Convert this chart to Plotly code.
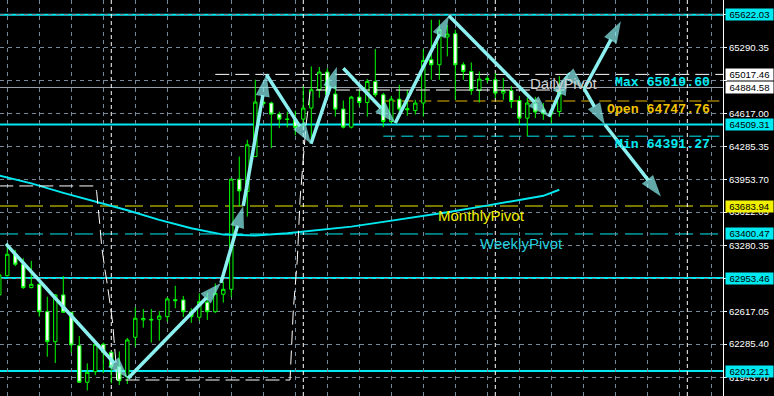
import plotly.graph_objects as go

# ---------------- data ----------------
opens = [62783, 62978, 63195, 63094, 62857, 62891, 62613, 62309, 62783, 62607,
         62269, 61898, 62005, 62283, 62202, 62056, 61954, 62354, 62530, 62536,
         62536, 62563, 62735, 62732, 62613, 62557, 62709, 62613, 62790, 62840,
         63956, 63830, 64185, 64737, 64727, 64615, 64566, 64560, 64564, 64676,
         64862, 65041, 64818, 64666, 64483, 64787, 64733, 64946, 64811, 64540,
         64767, 64670, 64652, 64727, 65166, 65115, 65396, 65430, 65115, 65047,
         64854, 64975, 64963, 64828, 64854, 64753, 64574, 64720, 64660, 64617,
         64641]
highs = [63010, 63310, 63240, 63155, 63128, 62900, 62765, 62790, 62975, 62610,
         62367, 62090, 62290, 62300, 62210, 62210, 62347, 62658, 62640, 62640,
         62620, 62760, 62875, 62773, 62648, 62800, 62806, 62900, 62918, 63960,
         64185, 64355, 64963, 64760, 64740, 64640, 64640, 64650, 64895, 65098,
         65092, 65080, 64902, 64753, 64800, 64862, 64970, 65274, 64830, 64800,
         64912, 64862, 64760, 65274, 65571, 65571, 65520, 65470, 65140, 65138,
         65047, 65000, 65030, 64980, 64900, 64800, 64780, 64790, 64727, 64660,
         65000]
lows = [62760, 62970, 63075, 62845, 62850, 62563, 62157, 62093, 62600, 62198,
        61890, 61816, 61970, 61990, 61887, 61870, 61880, 62258, 62451, 62300,
        62320, 62512, 62648, 62560, 62500, 62522, 62530, 62600, 62705, 62760,
        63680, 63577, 64180, 64700, 64270, 64473, 64480, 64400, 64480, 64320,
        64780, 64800, 64590, 64470, 64470, 64692, 64590, 64790, 64483, 64520,
        64600, 64598, 64610, 64590, 64963, 64963, 65200, 64760, 64963, 64811,
        64733, 64930, 64777, 64760, 64676, 64507, 64391.27, 64574, 64557, 64524,
        64590]
closes = [62986, 63195, 63094, 62857, 62891, 62613, 62309, 62783, 62607, 62276,
          61898, 61999, 62283, 62202, 62056, 61914, 62327, 62547, 62545, 62530,
          62570, 62742, 62725, 62613, 62563, 62715, 62613, 62800, 62840, 63956,
          63837, 64304, 64737, 64720, 64615, 64564, 64560, 64480, 64676, 64862,
          65041, 64811, 64666, 64483, 64787, 64733, 64946, 64811, 64540, 64767,
          64666, 64660, 64727, 65159, 65115, 65470, 65426, 65115, 65047, 64854,
          64970, 64965, 64828, 64854, 64743, 64574, 64727, 64636, 64620, 64640,
          64844]
bars = list(range(len(opens)))

# moving average (sampled at bars)
ma_bar = [0, 4, 8, 12, 16, 20, 24, 28, 32, 36, 40, 44, 48, 52, 56, 60, 64, 68, 70]
ma_val = [63992, 63913, 63817, 63731, 63640, 63543, 63459, 63394, 63386, 63408,
          63442, 63475, 63523, 63569, 63621, 63675, 63731, 63787, 63848]

# white dashed channel indicator
ch_bar = [0, 11.96, 12.17, 12.37, 12.59, 12.8, 13.0, 13.21, 13.42, 13.63, 13.84,
          14.17, 14.38, 14.55, 14.67, 36.34, 36.75, 37.25, 37.59, 38.0, 38.34,
          38.59, 38.84, 39.09, 70.7]
ch_val = [63887, 63887, 63829, 63677, 63474, 63272, 63137, 63036, 62934, 62833,
          62698, 62499, 62326, 62124, 61921, 61921, 62630, 63137, 63745, 64150,
          64505, 64657, 64839, 64859, 64859]

# zigzag arrow points
zz_bar = [0.84, 16.1, 27.7, 30.5, 33.4, 38.96, 42.2, 43.0, 49.5, 56.2, 68.7,
          71.1, 73.1, 77.7, 75.7, 82.7]
zz_val = [63300, 61938, 62905, 63685, 65014, 64314, 65095, 65080, 64524, 65612,
          64588, 65029, 64872, 65556, 64507, 63780]
zz_segments = [(0, 1), (1, 2), (2, 3), (3, 4), (4, 5), (5, 6), (7, 8), (8, 9),
               (9, 10), (10, 11), (11, 12), (12, 13), (12, 14), (14, 15)]

# levels
solid_levels = [65622.03, 64509.31, 62953.46, 62012.21]
monthly_pivot = 63683.94
weekly_pivot = 63400.47
daily_pivot = 65017.46
bid_price = 64884.58
day_max = 65019.60
day_open = 64747.76
day_min = 64391.27
daily_start_bar = 48
pivot_start_bar = 27
day_separators = [14, 38, 62, 86]

tick_vals = [65622.00, 65290.35, 64953.70, 64617.00, 64285.35, 63953.70,
             63622.05, 63280.35, 62948.70, 62617.05, 62285.40, 61943.70]
hidden_ticks = [65622.00, 64953.70, 62948.70]   # covered by level labels
tick_text = ["" if v in hidden_ticks else "%.2f" % v for v in tick_vals]

CYAN = "#00E8F0"
YEL = "#EEEE00"
ARROW = "#8CF0F0"
GRID = "#778899"

XR = [0.09, 90.46]
YR = [61758.9, 65771.0]

fig = go.Figure()

fig.add_trace(go.Candlestick(
    x=bars, open=opens, high=highs, low=lows, close=closes,
    increasing=dict(line=dict(color="#00FF00", width=1), fillcolor="#000000"),
    decreasing=dict(line=dict(color="#00FF00", width=1), fillcolor="#FFFFFF"),
    whiskerwidth=0, showlegend=False, hoverinfo="skip"))

fig.add_trace(go.Scatter(x=ma_bar, y=ma_val, mode="lines",
                         line=dict(color=CYAN, width=2), showlegend=False,
                         hoverinfo="skip"))

fig.add_trace(go.Scatter(x=ch_bar, y=ch_val, mode="lines",
                         line=dict(color="#FFFFFF", width=1, dash="14px,6px"),
                         showlegend=False, hoverinfo="skip"))

for a, b in zz_segments:
    fig.add_trace(go.Scatter(
        x=[zz_bar[a], zz_bar[b]], y=[zz_val[a], zz_val[b]],
        mode="lines+markers",
        line=dict(color=ARROW, width=3.5),
        marker=dict(symbol="arrow", size=[0, 23], angleref="previous",
                    color=ARROW, line=dict(width=0)),
        showlegend=False, hoverinfo="skip"))

shapes = []
for v in solid_levels:
    shapes.append(dict(type="line", xref="paper", yref="y", x0=0, x1=1, y0=v, y1=v,
                       line=dict(color=CYAN, width=2), layer="below"))
shapes.append(dict(type="line", xref="paper", yref="y", x0=0, x1=1,
                   y0=monthly_pivot, y1=monthly_pivot,
                   line=dict(color=YEL, width=1, dash="18px,7px"), layer="below"))
shapes.append(dict(type="line", xref="paper", yref="y", x0=0, x1=1,
                   y0=weekly_pivot, y1=weekly_pivot,
                   line=dict(color=CYAN, width=1, dash="18px,7px"), layer="below"))
shapes.append(dict(type="line", xref="x", yref="y", x0=pivot_start_bar, x1=XR[1],
                   y0=daily_pivot, y1=daily_pivot,
                   line=dict(color="#FFFFFF", width=1, dash="14px,6px"), layer="below"))
shapes.append(dict(type="line", xref="paper", yref="y", x0=0, x1=1,
                   y0=bid_price, y1=bid_price,
                   line=dict(color="#9AA0A8", width=1), layer="below"))
shapes.append(dict(type="line", xref="x", yref="y", x0=daily_start_bar, x1=XR[1],
                   y0=day_open, y1=day_open,
                   line=dict(color="#E6B800", width=1, dash="12px,6px"), layer="below"))
shapes.append(dict(type="line", xref="x", yref="y", x0=daily_start_bar, x1=XR[1],
                   y0=day_min, y1=day_min,
                   line=dict(color=CYAN, width=1, dash="12px,6px"), layer="below"))
for d in day_separators:
    shapes.append(dict(type="line", xref="x", yref="paper", x0=d, x1=d, y0=0, y1=1,
                       line=dict(color="#FFFFFF", width=1, dash="4px,3px"),
                       layer="below"))

annotations = []
AXFONT = "Liberation Sans, Arial"
box_labels = [(65622.03, CYAN), (daily_pivot, "#FFFFFF"), (bid_price, "#FFFFFF"),
              (64509.31, CYAN), (monthly_pivot, "#F0F000"), (weekly_pivot, CYAN),
              (62953.46, CYAN), (62012.21, CYAN)]
for v, bg in box_labels:
    annotations.append(dict(xref="paper", yref="y", x=1, y=v, xanchor="left",
                            yanchor="middle", xshift=2, text="%.2f" % v,
                            showarrow=False, bgcolor=bg, borderpad=0,
                            width=47, height=11, align="center", valign="middle",
                            font=dict(color="#000000", size=9.6, family=AXFONT)))

TXT = "Liberation Sans, Arial"
annotations.append(dict(xref="x", yref="y", x=54.7, y=monthly_pivot, xanchor="left",
                        yanchor="top", text="MonthlyPivot", showarrow=False,
                        borderpad=0, font=dict(color=YEL, size=15, family=TXT)))
annotations.append(dict(xref="x", yref="y", x=60.0, y=weekly_pivot, xanchor="left",
                        yanchor="top", text="WeeklyPivot", showarrow=False,
                        borderpad=0, font=dict(color="#22CCDD", size=15, family=TXT)))
annotations.append(dict(xref="x", yref="y", x=66.2, y=daily_pivot, xanchor="left",
                        yanchor="top", text="DailyPivot", showarrow=False,
                        borderpad=0, font=dict(color="#D0D0D0", size=15, family=TXT)))

MONO = "Liberation Mono, DejaVu Sans Mono, monospace"
for label, v, col in [("Max", day_max, CYAN), ("Open", day_open, "#F2C200"),
                      ("Min", day_min, CYAN)]:
    annotations.append(dict(xref="paper", yref="y", x=712 / 723, y=v,
                            xanchor="right", yanchor="middle", yshift=-8,
                            text="<b>%s %.2f</b>" % (label, v), showarrow=False,
                            font=dict(color=col, size=13.2, family=MONO)))

fig.update_layout(
    width=774, height=396,
    margin=dict(l=0, r=51, t=0, b=0),
    paper_bgcolor="#000000", plot_bgcolor="#000000",
    showlegend=False, boxgap=0.4,
    shapes=shapes, annotations=annotations,
    xaxis=dict(range=XR, rangeslider=dict(visible=False), showticklabels=False,
               tickvals=list(range(1, 91, 4)), ticks="", showgrid=True,
               gridcolor=GRID, gridwidth=1, griddash="4px,4px",
               zeroline=False, showline=False),
    yaxis=dict(range=YR, side="right", tickvals=tick_vals, ticktext=tick_text,
               showgrid=True, gridcolor=GRID, gridwidth=1, griddash="4px,4px",
               zeroline=False, showline=True, linecolor="#FFFFFF", linewidth=1,
               ticks="outside", ticklen=3, tickcolor="#FFFFFF",
               tickfont=dict(color="#FFFFFF", size=9.6, family=AXFONT)),
)

fig.write_html("out.html")
